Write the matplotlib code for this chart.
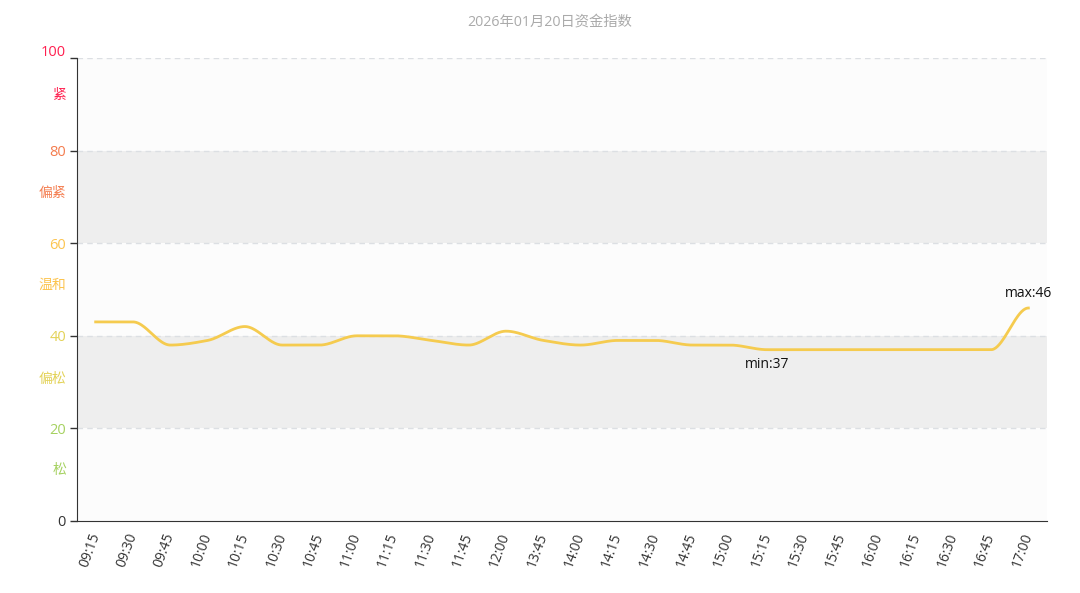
import numpy as np
import matplotlib
matplotlib.use("Agg")
import matplotlib.pyplot as plt
from matplotlib.transforms import ScaledTranslation

plt.rcParams['font.family'] = ['Open Sans', 'Noto Sans CJK SC', 'DejaVu Sans']

# 时间点
times = ['09:15', '09:30', '09:45', '10:00', '10:15', '10:30', '10:45', '11:00',
         '11:15', '11:30', '11:45', '12:00', '13:45', '14:00', '14:15', '14:30',
         '14:45', '15:00', '15:15', '15:30', '15:45', '16:00', '16:15', '16:30',
         '16:45', '17:00']
# 资金指数
values = [43, 43, 38, 39, 42, 38, 38, 40, 40, 39, 38, 41, 39, 38, 39, 39,
          38, 38, 37, 37, 37, 37, 37, 37, 37, 46]

# 区间
band_ticks = [0, 20, 40, 60, 80, 100]
band_tick_colors = ['#333333', '#a5d160', '#e3d257', '#fcc44f', '#f47c4e', '#ff1f4f']
band_names = ['松', '偏松', '温和', '偏紧', '紧']
band_colors = ['#a5d160', '#e3d257', '#fcc44f', '#f47c4e', '#ff1f4f']
band_fill = ['#fcfcfc', '#eeeeee', '#fcfcfc', '#eeeeee', '#fcfcfc']
# 区间名字的位置
band_label_pos = [11.0, 30.6, 50.9, 70.7, 92.0]


# 单调三次插值, 让曲线平滑但不超出
def pchip(x, y, xs):
    x = np.asarray(x, float)
    y = np.asarray(y, float)
    h = np.diff(x)
    d = np.diff(y) / h
    n = len(x)
    m = np.zeros(n)
    for k in range(1, n - 1):
        if d[k - 1] * d[k] > 0:
            w1 = 2 * h[k] + h[k - 1]
            w2 = h[k] + 2 * h[k - 1]
            m[k] = (w1 + w2) / (w1 / d[k - 1] + w2 / d[k])
    idx = np.clip(np.searchsorted(x, xs) - 1, 0, n - 2)
    t = (xs - x[idx]) / h[idx]
    h00 = 2 * t**3 - 3 * t**2 + 1
    h10 = t**3 - 2 * t**2 + t
    h01 = -2 * t**3 + 3 * t**2
    h11 = t**3 - t**2
    return h00 * y[idx] + h10 * h[idx] * m[idx] + h01 * y[idx + 1] + h11 * h[idx] * m[idx + 1]


fig = plt.figure(figsize=(10.8, 5.93), dpi=100)
ax = fig.add_axes([77 / 1080, 72 / 593, 970 / 1080, 463 / 593])

for i in range(5):
    ax.axhspan(band_ticks[i], band_ticks[i + 1], color=band_fill[i], zorder=0, lw=0)
for yv in band_ticks[1:]:
    ax.axhline(yv, color='#dcdfe3', lw=1, ls=(0, (4, 3)), zorder=1)

x = np.arange(len(times))
xs = np.linspace(0, len(times) - 1, 1000)
ax.plot(xs, pchip(x, values, xs), color='#f5cb4f', lw=2, zorder=3)

vals = np.array(values)
imin = int(np.argmin(vals))
imax = int(np.argmax(vals))
ax.annotate('min:%d' % vals[imin], (imin, vals[imin]), xytext=(0, -5), textcoords='offset points',
            ha='center', va='top', fontsize=10, color='#111111')
ax.annotate('max:%d' % vals[imax], (imax, vals[imax]), xytext=(0, 5), textcoords='offset points',
            ha='center', va='bottom', fontsize=10, color='#111111')

ax.set_xlim(-0.5, len(times) - 0.5)
ax.set_ylim(0, 100)
ax.set_xticks(x)
ax.set_xticklabels(times, rotation=70, ha='right', va='center', rotation_mode='anchor',
                   fontsize=10, color='#333333')
ax.tick_params(axis='x', length=0, pad=9)
ax.set_yticks(band_ticks)
ax.set_yticklabels([str(v) for v in band_ticks], fontsize=10.5)
for lab, c in zip(ax.get_yticklabels(), band_tick_colors):
    lab.set_color(c)
ax.tick_params(axis='y', length=5, width=1, color='#333333', pad=3)
# 顶部的100稍微往上
top_lab = ax.get_yticklabels()[-1]
top_lab.set_transform(top_lab.get_transform() + ScaledTranslation(0, 7 / 100, fig.dpi_scale_trans))

for name, pos, c in zip(band_names, band_label_pos, band_colors):
    ax.text(-0.011, pos / 100, name, transform=ax.transAxes,
            ha='right', va='center', fontsize=10, color=c)

for s in ['top', 'right']:
    ax.spines[s].set_visible(False)
ax.spines['left'].set_color('#333333')
ax.spines['bottom'].set_color('#333333')

fig.text(550 / 1080, 1 - 22 / 593, '2026年01月20日资金指数', ha='center', va='center',
         fontsize=10.3, color='#aaaaaa')

fig.savefig('out.png', dpi=100, facecolor='white')
